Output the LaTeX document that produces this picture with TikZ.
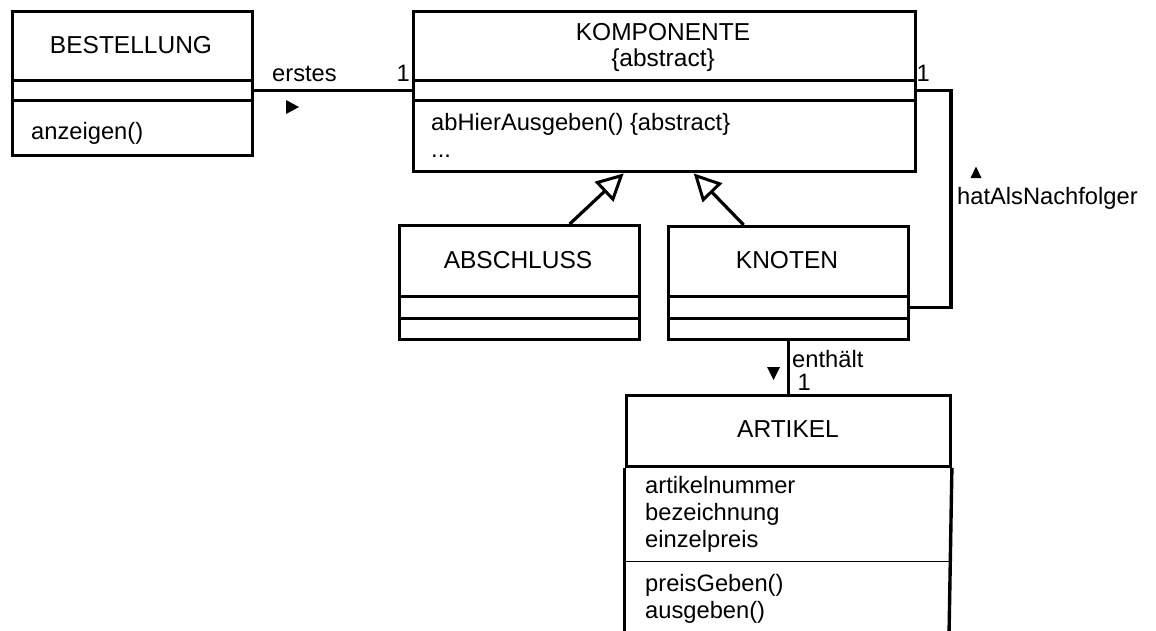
\documentclass[tikz,border=0pt]{standalone}
\usepackage{fontspec}
\setmainfont{Liberation Sans}
\usetikzlibrary{arrows.meta}
\begin{document}
\begin{tikzpicture}[x=1pt,y=-1pt,
  comp/.style={draw, line width=3.4pt, inner sep=0pt, anchor=north west},
  hold/.style={inner sep=0pt, anchor=north west},
  ttl/.style={font=\fontsize{24.5}{28}\selectfont, anchor=base, inner sep=0pt},
  txt/.style={font=\fontsize{23.7}{27}\selectfont, anchor=base west, inner sep=0pt},
  conn/.style={line width=3.2pt},
  gen/.style={line width=3.2pt, -{Triangle[open, length=27pt, width=27pt, line width=3pt]}}
]
\path[use as bounding box] (0,0) rectangle (1156,630);
\clip (0,0) rectangle (1156,630);

% BESTELLUNG
\node[comp, minimum width=240pt, minimum height=69pt] (bestT) at (11,10) {};
\node[comp, minimum width=240pt, minimum height=20pt] (bestA) at (11,79) {};
\node[comp, minimum width=240pt, minimum height=55pt] (bestO) at (11,99) {};
\node[ttl] (bestName) at (131,53) {BESTELLUNG};
\node[txt] (bestOp) at (31,139) {anzeigen()};

% KOMPONENTE
\node[comp, minimum width=502pt, minimum height=69pt] (komT) at (412,10) {};
\node[comp, minimum width=502pt, minimum height=20pt] (komA) at (412,79) {};
\node[comp, minimum width=502pt, minimum height=71pt] (komO) at (412,99) {};
\node[ttl] (komName) at (663,40.6) {KOMPONENTE};
\node[ttl] (komAbs) at (663,66) {\{abstract\}};
\node[txt] (komOp1) at (431,130) {abHierAusgeben() \{abstract\}};
\node[txt] (komOp2) at (431,157) {...};

% ABSCHLUSS
\node[comp, minimum width=240pt, minimum height=71pt] (absT) at (398,224) {};
\node[comp, minimum width=240pt, minimum height=22pt] (absA) at (398,295) {};
\node[comp, minimum width=240pt, minimum height=21pt] (absO) at (398,317) {};
\node[ttl] (absName) at (518,268) {ABSCHLUSS};

% KNOTEN
\node[comp, minimum width=240pt, minimum height=70pt] (knoT) at (667,225) {};
\node[comp, minimum width=240pt, minimum height=22pt] (knoA) at (667,295) {};
\node[comp, minimum width=240pt, minimum height=21pt] (knoO) at (667,317) {};
\node[ttl] (knoName) at (787,268) {KNOTEN};

% ARTIKEL
\node[comp, minimum width=324pt, minimum height=71pt] (artT) at (624.5,393.5) {};
\node[hold, minimum width=324pt, minimum height=97pt] (artA) at (624.5,464.5) {};
\node[hold, minimum width=324pt, minimum height=80pt] (artO) at (624.5,561.5) {};
\draw[line width=3.4pt] (artT.south west) -- (artO.south west);
\draw[line width=3.4pt] (artT.south east) -- (artO.south east);
\draw[line width=1.8pt] (artO.north west) -- (artO.north east);
\node[ttl] (artName) at (788,437.3) {ARTIKEL};
\node[txt] (artAt1) at (645,493) {artikelnummer};
\node[txt] (artAt2) at (645,520) {bezeichnung};
\node[txt] (artAt3) at (645,547) {einzelpreis};
\node[txt] (artOp1) at (645,591) {preisGeben()};
\node[txt] (artOp2) at (645,618) {ausgeben()};

% connectors
\draw[conn] (bestA.east) -- (komA.west);
\coordinate (rc) at (951,200);
\draw[conn] (komA.east) -| (rc) |- (knoA.east);
\draw[conn] (knoO.south) -- (artT.north -| knoO.south);
\draw[gen] ([xshift=50pt]absT.north) -- ([xshift=-41pt]komO.south);
\draw[gen] ([xshift=-45pt]knoT.north) -- ([xshift=29pt]komO.south);

% labels
\node[txt] (lErstes) at (272,81) {erstes};
\node[txt] (m1) at (396.5,81) {1};
\node[txt] (m2) at (916.5,81) {1};
\node[txt] (lNach) at (957,204) {hatAlsNachfolger};
\node[txt] (lEnth) at (792,367) {enthält};
\node[txt] (m3) at (797.5,390) {1};

% direction markers
\fill (286,100) -- (299,107) -- (286,114) -- cycle;
\fill (970.5,178) -- (976,166.5) -- (981.5,178) -- cycle;
\fill (767,367) -- (780,367) -- (773.5,380) -- cycle;
\end{tikzpicture}
\end{document}
